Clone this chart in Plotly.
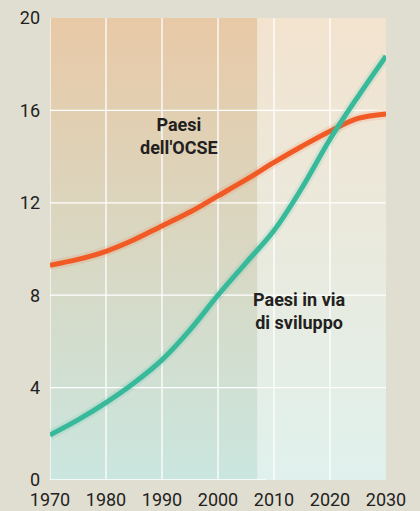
import plotly.graph_objects as go

# years (every 5) and the two series
years = [1970, 1975, 1980, 1985, 1990, 1995, 2000, 2005, 2010, 2015, 2020, 2025, 2030]
ocse = [9.3, 9.55, 9.9, 10.4, 11.0, 11.6, 12.3, 13.0, 13.75, 14.45, 15.1, 15.65, 15.85]
sviluppo = [1.95, 2.6, 3.35, 4.2, 5.2, 6.5, 8.0, 9.4, 10.8, 12.65, 14.75, 16.6, 18.35]

x_ticks = [1970, 1980, 1990, 2000, 2010, 2020, 2030]
y_ticks = [0, 4, 8, 12, 16, 20]
shade_end = 2007  # end of the darker (historical) region

font = "Roboto, sans-serif"
txt = "#231f20"
page_bg = "#e0ddd1"

fig = go.Figure()

# background panels with vertical gradients
def panel(x0, x1, top, bottom):
    fig.add_trace(
        go.Scatter(
            x=[x0, x1, x1, x0, x0],
            y=[0, 0, 20, 20, 0],
            mode="lines",
            line=dict(width=0),
            fill="toself",
            fillgradient=dict(type="vertical", colorscale=[[0, bottom], [1, top]]),
            hoverinfo="skip",
            showlegend=False,
        )
    )

panel(1970, shade_end, "#e8c9a6", "#cae6df")
panel(shade_end, 2030, "#f3e3cf", "#e0f1ed")

# white grid drawn on top of the panels
gx, gy = [], []
for t in x_ticks[:-1]:
    gx += [t, t, None]
    gy += [0, 20, None]
for t in y_ticks[1:-1]:
    gx += [1970, 2030, None]
    gy += [t, t, None]
gx += [1970, shade_end + 1.5]
gy += [0, 0]
fig.add_trace(
    go.Scatter(x=gx, y=gy, mode="lines", line=dict(color="white", width=1.3),
               hoverinfo="skip", showlegend=False)
)

# data lines with a soft glow
for vals, col, glow in [
    (ocse, "#f15a24", "rgba(241,90,36,0.12)"),
    (sviluppo, "#38b99a", "rgba(56,185,154,0.12)"),
]:
    fig.add_trace(
        go.Scatter(x=years, y=vals, mode="lines",
                   line=dict(color=glow, width=10, shape="spline"),
                   hoverinfo="skip", showlegend=False)
    )
    fig.add_trace(
        go.Scatter(x=years, y=vals, mode="lines",
                   line=dict(color=col, width=5, shape="spline"),
                   showlegend=False)
    )

fig.add_annotation(x=1993, y=14.9, text="<b>Paesi<br>dell'OCSE</b>",
                   showarrow=False, font=dict(family=font, size=18, color=txt))
fig.add_annotation(x=2014.5, y=7.3, text="<b>Paesi in via<br>di sviluppo</b>",
                   showarrow=False, font=dict(family=font, size=18, color=txt))

fig.update_xaxes(
    range=[1970, 2030], tickvals=x_ticks, showgrid=False, zeroline=False,
    showline=False, ticks="", tickfont=dict(family=font, size=18, color=txt),
    ticklabelstandoff=7, automargin=False,
)
fig.update_yaxes(
    range=[0, 20], tickvals=y_ticks, showgrid=False, zeroline=False,
    showline=False, ticks="", tickfont=dict(family=font, size=18, color=txt),
    ticklabelstandoff=9, automargin=False,
)
fig.update_layout(
    width=420, height=511,
    margin=dict(l=50, r=34, t=18, b=31),
    paper_bgcolor=page_bg, plot_bgcolor=page_bg,
    showlegend=False,
)

# drop the default 8px page margin so the figure fills the window
fig.write_html(
    "out.html",
    config={"displayModeBar": False},
    post_script="document.body.style.margin='0';"
    "document.body.style.background='" + page_bg + "';",
)
